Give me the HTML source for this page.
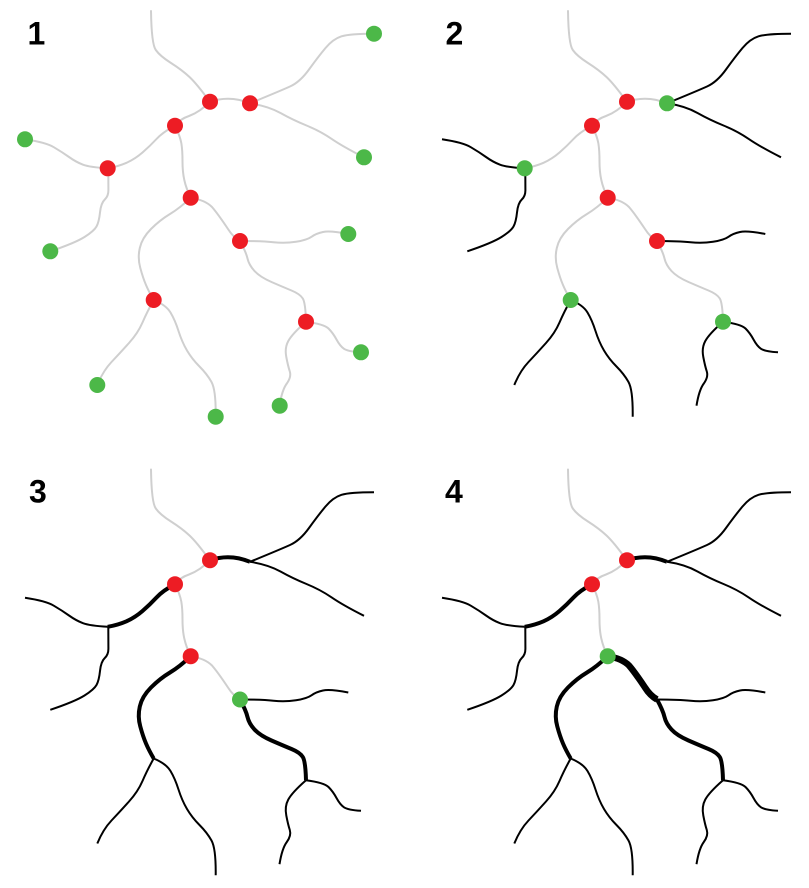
<!DOCTYPE html>
<html><head><meta charset="utf-8"><style>
html,body{margin:0;padding:0;background:#fff;}
svg{display:block;}
text{font-family:"Liberation Sans",Arial,sans-serif;font-weight:bold;font-size:32px;fill:#000;}
</style></head><body>
<svg width="809" height="888" viewBox="0 0 809 888" xmlns="http://www.w3.org/2000/svg">
<defs>
<path id="top" d="M151,11 Q151.5,44 155.8,50 Q160,56 171,63 Q182,70 189.5,77 Q197,84 210,102"/>
<path id="r1r2" d="M210,101.7 Q230,95 250,103.3"/>
<path id="r2g1" d="M250,103.3 Q280,91 290,86.5 Q300,82 309,69.5 Q318,57 325.5,48 Q333,39 341.5,36.3 Q350,33.7 374,33.7"/>
<path id="r2g2" d="M250,103.3 Q268,106 280.5,113 Q293,120 306.5,125.5 Q320,131 331.5,138.8 Q343,146.7 364,157.3"/>
<path id="r1r3" d="M210,101.7 Q200,112 189,116 Q180,119 175,125.7"/>
<path id="r3r4" d="M175,125.7 Q163,132 156.5,139 Q150,146 142.5,152.5 Q135,159 126.5,162.8 Q118,166.5 107.7,168.3"/>
<path id="r4g3" d="M107.7,168.3 Q90,167.3 83,164.7 Q76,162 69,157 Q62,152 54,147.3 Q46,142.5 25,139.3"/>
<path id="r4g4" d="M108.3,168.3 L108.4,190 Q108.5,196 104.8,199.5 Q101,203 100,212.5 Q99,222 96.5,226.5 Q94,231 84.5,237 Q75,243 50.3,251.3"/>
<path id="r3r5" d="M175,125.7 Q180,136 181.3,143 Q182.5,150 182.5,161 Q182.5,172 184.3,180 Q186,188 190.7,197.7"/>
<path id="r5r6" d="M190.7,197.7 Q205,200 212,207 Q218,214 228,229 Q233,237 240,241"/>
<path id="r6g5" d="M240,241 Q262,241 273.5,242.3 Q285,243.5 296,241.8 Q307,240 311.5,236.8 Q316,233.5 323,232 Q330,230.5 348.3,234"/>
<path id="r6r8" d="M240,241 Q246,252 247.5,258.5 Q249,265 254.5,271 Q260,277 271.5,282 Q283,287 291.5,290.5 Q300,294 302.8,298.5 Q305.5,303 306,321.7"/>
<path id="r8g8" d="M306,321.7 Q324,324 328.5,328.5 Q333,333 336.5,339.5 Q340,346 344,348.8 Q348,351.5 361,352.3"/>
<path id="r8g9" d="M306,321.7 Q292,334 288.3,341 Q284.5,348 286.3,357 Q288,366 289.8,371.5 Q291.5,377 286.8,383.5 Q282,390 279.5,405.7"/>
<path id="r5r7" d="M190.7,197.7 Q180,208 170,214 Q160,220 151,229 Q142,238 139.8,248 Q137.5,258 140.3,268 Q143,278 146,285 Q149,292 153.7,300"/>
<path id="r7g6" d="M153.7,300 Q147,312 142.5,322.5 Q138,333 129,343 Q120,353 111.5,362 Q103,371 97.3,385"/>
<path id="r7g7" d="M153.7,300 Q166,305 170.5,312.5 Q175,320 178.5,331 Q182,342 187,350.5 Q192,359 199.5,366.5 Q207,374 211.5,382 Q216,390 215.7,416.7"/>
</defs>

<!-- Panel 1 -->
<text x="27.5" y="44.3">1</text>
<g fill="none" stroke="#cfcfcf" stroke-width="2" stroke-linecap="round">
<use href="#top"/><use href="#r1r2"/><use href="#r2g1"/><use href="#r2g2"/><use href="#r1r3"/><use href="#r3r4"/><use href="#r4g3"/><use href="#r4g4"/><use href="#r3r5"/><use href="#r5r6"/><use href="#r6g5"/><use href="#r6r8"/><use href="#r8g8"/><use href="#r8g9"/><use href="#r5r7"/><use href="#r7g6"/><use href="#r7g7"/>
</g>
<g fill="#ed1c24">
<circle cx="210" cy="101.7" r="8"/><circle cx="250" cy="103.3" r="8"/><circle cx="175" cy="125.7" r="8"/><circle cx="107.7" cy="168.3" r="8"/><circle cx="190.7" cy="197.7" r="8"/><circle cx="240" cy="241" r="8"/><circle cx="153.7" cy="300" r="8"/><circle cx="306" cy="321.7" r="8"/>
</g>
<g fill="#4cb848">
<circle cx="374" cy="33.7" r="8"/><circle cx="364" cy="157.3" r="8"/><circle cx="25" cy="139.3" r="8"/><circle cx="50.3" cy="251.3" r="8"/><circle cx="348.3" cy="234" r="8"/><circle cx="97.3" cy="385" r="8"/><circle cx="215.7" cy="416.7" r="8"/><circle cx="361" cy="352.3" r="8"/><circle cx="279.7" cy="405.7" r="8"/>
</g>

<!-- Panel 2 -->
<text x="445.5" y="44.3">2</text>
<g transform="translate(417,0)">
<g fill="none" stroke="#cfcfcf" stroke-width="2" stroke-linecap="round">
<use href="#top"/><use href="#r1r2"/><use href="#r1r3"/><use href="#r3r4"/><use href="#r3r5"/><use href="#r5r6"/><use href="#r6r8"/><use href="#r5r7"/>
</g>
<g fill="none" stroke="#000" stroke-width="2">
<use href="#r2g1"/><use href="#r2g2"/><use href="#r4g3"/><use href="#r4g4"/><use href="#r6g5"/><use href="#r8g8"/><use href="#r8g9"/><use href="#r7g6"/><use href="#r7g7"/>
</g>
<g fill="#ed1c24">
<circle cx="210" cy="101.7" r="8"/><circle cx="175" cy="125.7" r="8"/><circle cx="190.7" cy="197.7" r="8"/><circle cx="240" cy="241" r="8"/>
</g>
<g fill="#4cb848">
<circle cx="250" cy="103.3" r="8"/><circle cx="107.7" cy="168.3" r="8"/><circle cx="153.7" cy="300" r="8"/><circle cx="306" cy="321.7" r="8"/>
</g>
</g>

<!-- Panel 3 -->
<text x="29" y="502.5">3</text>
<g transform="translate(0,458.5)">
<g fill="none" stroke="#cfcfcf" stroke-width="2" stroke-linecap="round">
<use href="#top"/><use href="#r1r3"/><use href="#r3r5"/><use href="#r5r6"/>
</g>
<g fill="none" stroke="#000" stroke-width="2">
<use href="#r2g1"/><use href="#r2g2"/><use href="#r4g3"/><use href="#r4g4"/><use href="#r6g5"/><use href="#r8g8"/><use href="#r8g9"/><use href="#r7g6"/><use href="#r7g7"/>
</g>
<g fill="none" stroke="#000" stroke-width="4">
<use href="#r1r2"/><use href="#r3r4"/><use href="#r5r7"/><use href="#r6r8"/>
</g>
<g fill="#ed1c24">
<circle cx="210" cy="101.7" r="8"/><circle cx="175" cy="125.7" r="8"/><circle cx="190.7" cy="197.7" r="8"/>
</g>
<g fill="#4cb848">
<circle cx="240" cy="241" r="8"/>
</g>
</g>

<!-- Panel 4 -->
<text x="445" y="502.5">4</text>
<g transform="translate(417,458.5)">
<g fill="none" stroke="#cfcfcf" stroke-width="2" stroke-linecap="round">
<use href="#top"/><use href="#r1r3"/><use href="#r3r5"/>
</g>
<g fill="none" stroke="#000" stroke-width="2">
<use href="#r2g1"/><use href="#r2g2"/><use href="#r4g3"/><use href="#r4g4"/><use href="#r6g5"/><use href="#r8g8"/><use href="#r8g9"/><use href="#r7g6"/><use href="#r7g7"/>
</g>
<g fill="none" stroke="#000" stroke-width="4">
<use href="#r1r2"/><use href="#r3r4"/><use href="#r5r7"/><use href="#r6r8"/>
</g>
<g fill="none" stroke="#000" stroke-width="6.5">
<use href="#r5r6"/>
</g>
<g fill="#ed1c24">
<circle cx="210" cy="101.7" r="8"/><circle cx="175" cy="125.7" r="8"/>
</g>
<g fill="#4cb848">
<circle cx="190.7" cy="197.7" r="8"/>
</g>
</g>
</svg>
</body></html>
